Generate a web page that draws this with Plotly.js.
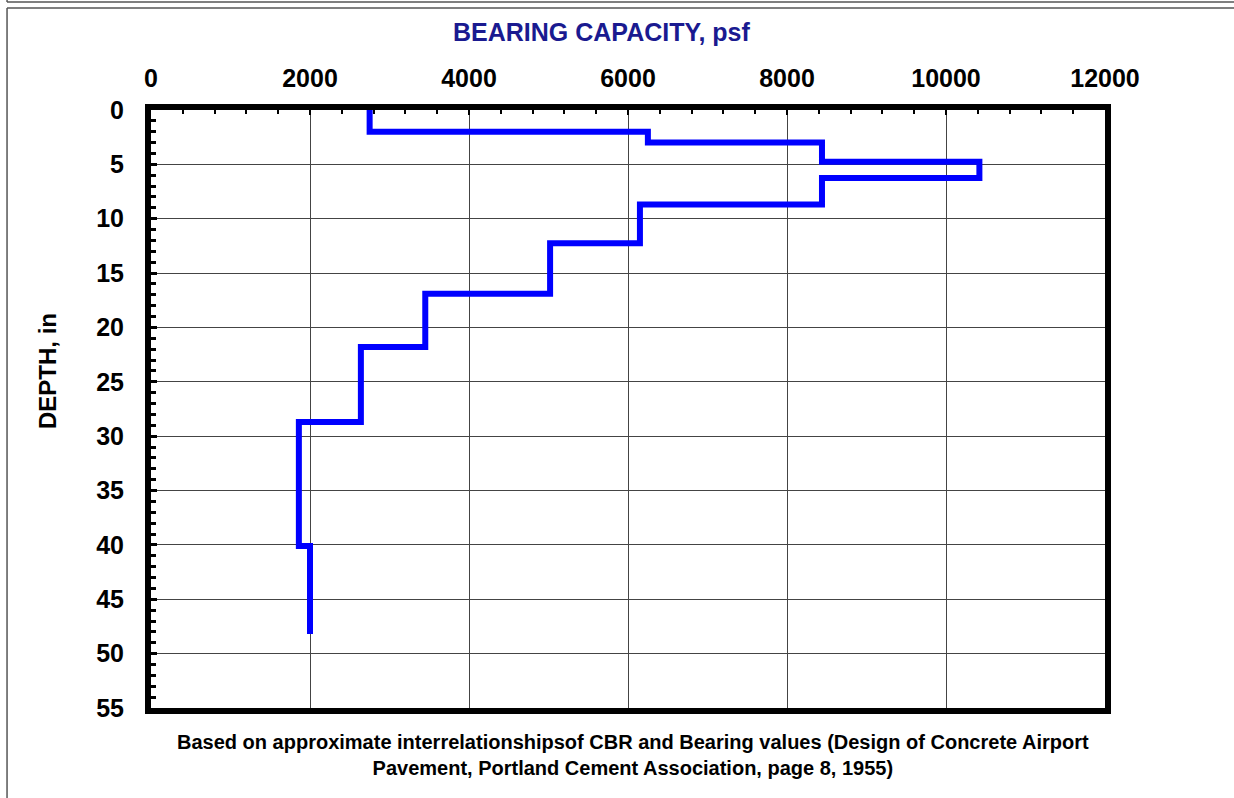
<!DOCTYPE html>
<html>
<head>
<meta charset="utf-8">
<script src="https://cdn.plot.ly/plotly-3.0.1.min.js"></script>
<style>
  html, body { margin: 0; padding: 0; background: #fff; }
  #plotArea { width: 1234px; height: 798px; }
</style>
</head>
<body>
<div id="plotArea"></div>
<script>
// depth (in) where each step starts, and bearing capacity (psf)
var depthIn = [0, 2, 3, 4.75, 6.25, 8.7, 12.25, 16.9, 21.8, 28.7, 40.1, 48.2]
var capacityPsf = [2750, 6250, 8440, 10420, 8440, 6150, 5020, 3450, 2640, 1860, 2000, 2000]

var xTicks = [0, 2000, 4000, 6000, 8000, 10000, 12000]
var yTicks = [0, 5, 10, 15, 20, 25, 30, 35, 40, 45, 50, 55]

var tickFont = { family: "Liberation Sans, Arial, sans-serif", size: 25, color: "#000", weight: "bold" }

var trace = [{
    x: capacityPsf,
    y: depthIn,
    type: "scatter",
    mode: "lines",
    line: { color: "#0000ff", width: 6, shape: "vh" },
    hoverinfo: "skip"
}]

var layout = {
    width: 1234,
    height: 798,
    margin: { l: 151, r: 129, t: 110, b: 90 },
    paper_bgcolor: "#fff",
    plot_bgcolor: "#fff",
    showlegend: false,
    xaxis: {
        side: "top",
        range: [0, 12000],
        tickvals: xTicks,
        ticktext: xTicks.map(String),
        tickfont: tickFont,
        ticks: "inside",
        ticklen: 5,
        tickwidth: 2,
        tickcolor: "#000",
        ticklabelstandoff: 7,
        minor: { dtick: 400, tick0: 0, ticks: "inside", ticklen: 4, tickwidth: 2, tickcolor: "#000", showgrid: false },
        showline: true,
        linewidth: 6,
        linecolor: "#000",
        mirror: true,
        showgrid: true,
        gridcolor: "#444",
        gridwidth: 1,
        zeroline: false,
        fixedrange: true
    },
    yaxis: {
        range: [55, 0],
        tickvals: yTicks,
        ticktext: yTicks.map(String),
        tickfont: tickFont,
        ticks: "inside",
        ticklen: 6,
        tickwidth: 3,
        tickcolor: "#000",
        ticklabelstandoff: 16,
        minor: { dtick: 1, tick0: 0, ticks: "inside", ticklen: 5, tickwidth: 3, tickcolor: "#000", showgrid: false },
        showline: true,
        linewidth: 6,
        linecolor: "#000",
        mirror: true,
        showgrid: true,
        gridcolor: "#444",
        gridwidth: 1,
        zeroline: false,
        fixedrange: true
    },
    annotations: [
        {
            text: "BEARING CAPACITY, psf",
            xref: "paper", yref: "paper",
            x: 0.4717, y: 1.1304,
            xanchor: "center", yanchor: "middle",
            showarrow: false,
            font: { family: "Liberation Sans, Arial, sans-serif", size: 25, color: "#1a1a90", weight: "bold" }
        },
        {
            text: "DEPTH, in",
            xref: "paper", yref: "paper",
            x: -0.109, y: 0.5635,
            xanchor: "center", yanchor: "middle",
            textangle: -90,
            showarrow: false,
            font: { family: "Liberation Sans, Arial, sans-serif", size: 24, color: "#000", weight: "bold" }
        },
        {
            text: "Based on approximate interrelationshipsof CBR and Bearing values (Design of Concrete Airport<br>Pavement, Portland Cement Association, page 8, 1955)",
            xref: "paper", yref: "paper",
            x: 0.505, y: -0.0778,
            xanchor: "center", yanchor: "middle",
            align: "center",
            showarrow: false,
            font: { family: "Liberation Sans, Arial, sans-serif", size: 20, color: "#000", weight: "bold" }
        }
    ],
    shapes: [
        // frame of the panel above and of this panel
        { type: "line", xref: "paper", yref: "paper", x0: -0.1509, x1: 1.2, y0: 1.1806, y1: 1.1806, line: { color: "#555", width: 1.5 } },
        { type: "line", xref: "paper", yref: "paper", x0: -0.1509, x1: 1.2, y0: 1.1706, y1: 1.1706, line: { color: "#555", width: 1.5 } },
        { type: "line", xref: "paper", yref: "paper", x0: -0.1509, x1: -0.1509, y0: 1.1706, y1: -0.2, line: { color: "#555", width: 1.5 } },
        { type: "line", xref: "paper", yref: "paper", x0: -0.1509, x1: -0.1509, y0: 1.1806, y1: 1.2, line: { color: "#555", width: 1.5 } }
    ]
}

Plotly.newPlot("plotArea", trace, layout, { staticPlot: true })
</script>
</body>
</html>
